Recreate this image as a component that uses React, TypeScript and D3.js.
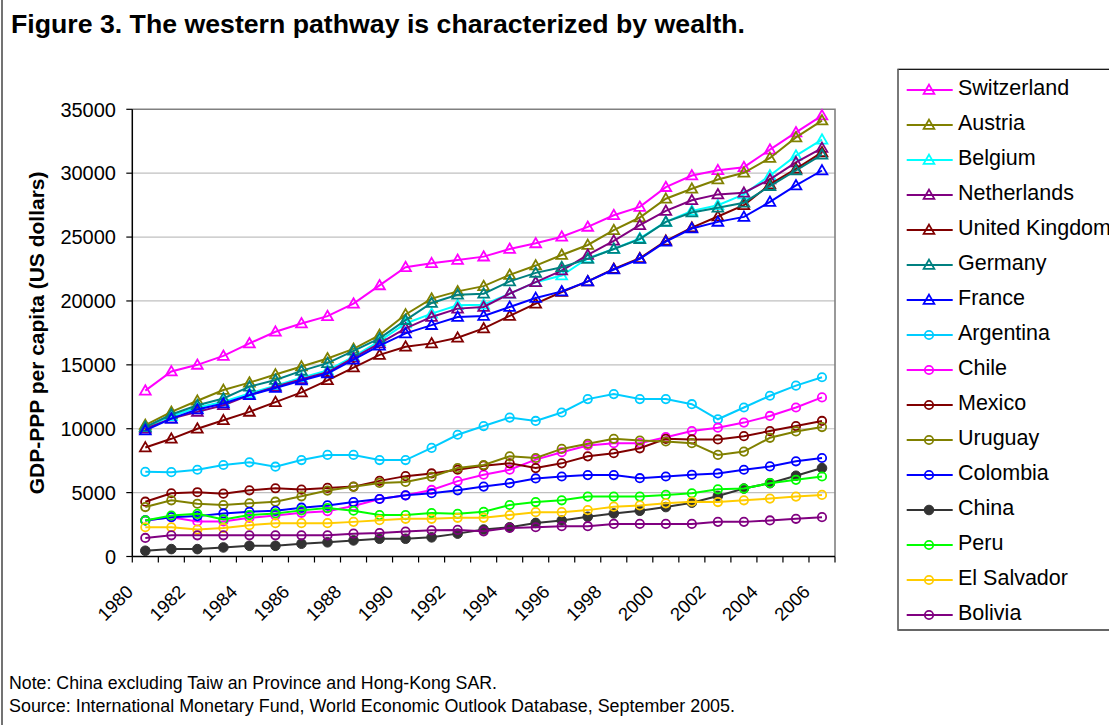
import React from "react";
import * as d3 from "d3";

// categories and tick labels
const years = [
  1980, 1981, 1982, 1983, 1984, 1985, 1986, 1987, 1988, 1989, 1990, 1991, 1992, 1993,
  1994, 1995, 1996, 1997, 1998, 1999, 2000, 2001, 2002, 2003, 2004, 2005, 2006,
];
const yTicks = [0, 5000, 10000, 15000, 20000, 25000, 30000, 35000];

// GDP-PPP per capita
const switzerland = [12980, 14480, 15000, 15700, 16680, 17590, 18240, 18810, 19790, 21220, 22640, 22950, 23210, 23470, 24070, 24510, 25030, 25800, 26710, 27360, 28910, 29820, 30230, 30470, 31840, 33190, 34510];
const austria = [10290, 11320, 12190, 13030, 13610, 14240, 14870, 15500, 16250, 17330, 18940, 20180, 20750, 21160, 22040, 22770, 23600, 24380, 25540, 26530, 28000, 28780, 29510, 30030, 31190, 32800, 34120];
const belgium = [10080, 10980, 11660, 12110, 12770, 13370, 14000, 14560, 15650, 16860, 18240, 19010, 19660, 19710, 20570, 21470, 21990, 23340, 24070, 24900, 26190, 27050, 27490, 28340, 29820, 31370, 32620];
const netherlands = [10000, 10790, 11320, 11840, 12630, 13290, 13870, 14420, 15550, 16680, 17850, 18750, 19400, 19530, 20570, 21470, 22380, 23600, 24710, 25930, 27050, 27880, 28340, 28470, 29510, 30850, 31970];
const unitedKingdom = [8530, 9210, 10000, 10660, 11320, 12080, 12840, 13790, 14790, 15780, 16420, 16680, 17120, 17850, 18830, 19790, 20700, 21530, 22510, 23340, 24710, 25740, 26610, 27490, 29120, 30340, 31630];
const germany = [10130, 11110, 11840, 12370, 13290, 13820, 14530, 15130, 16100, 17070, 18500, 19840, 20490, 20570, 21530, 22200, 22640, 23290, 24070, 24840, 26190, 26920, 27300, 27690, 28990, 30210, 31450];
const france = [9870, 10790, 11500, 11970, 12630, 13190, 13770, 14320, 15400, 16500, 17460, 18110, 18750, 18830, 19530, 20230, 20750, 21530, 22460, 23290, 24640, 25670, 26190, 26580, 27750, 29040, 30210];
const argentina = [6630, 6600, 6790, 7160, 7370, 7030, 7550, 7950, 7950, 7550, 7550, 8500, 9530, 10210, 10870, 10610, 11270, 12320, 12710, 12320, 12320, 11920, 10740, 11660, 12580, 13370, 14030];
const chile = [2820, 3080, 2740, 2740, 3030, 3210, 3420, 3550, 3950, 4500, 4790, 5210, 5900, 6400, 6790, 7580, 8160, 8690, 8870, 8870, 9340, 9820, 10080, 10480, 11000, 11660, 12450];
const mexico = [4290, 4950, 5030, 4920, 5180, 5340, 5240, 5370, 5470, 5920, 6290, 6500, 6790, 7110, 7290, 6920, 7290, 7840, 8080, 8470, 9210, 9160, 9160, 9420, 9820, 10210, 10610];
const uruguay = [3870, 4400, 4130, 4030, 4160, 4290, 4710, 5160, 5450, 5760, 5840, 6240, 6920, 7160, 7840, 7710, 8420, 8820, 9210, 9080, 9000, 8870, 7950, 8210, 9290, 9790, 10130];
const colombia = [2820, 3080, 3160, 3370, 3500, 3580, 3820, 4000, 4260, 4500, 4790, 4950, 5180, 5470, 5740, 6110, 6260, 6370, 6370, 6130, 6260, 6400, 6500, 6790, 7050, 7450, 7710];
const china = [450, 580, 580, 710, 840, 840, 1000, 1110, 1260, 1390, 1390, 1500, 1790, 2110, 2290, 2630, 2820, 3110, 3370, 3580, 3870, 4210, 4740, 5320, 5740, 6320, 6920];
const peru = [2820, 3210, 3340, 2900, 3240, 3370, 3610, 3790, 3580, 3240, 3240, 3400, 3340, 3500, 4030, 4260, 4400, 4690, 4690, 4690, 4820, 4950, 5260, 5320, 5740, 6000, 6260];
const elSalvador = [2290, 2290, 2110, 2240, 2450, 2610, 2610, 2610, 2710, 2840, 2950, 2950, 3030, 3030, 3240, 3470, 3470, 3630, 3900, 4000, 4160, 4290, 4260, 4400, 4530, 4690, 4820];
const bolivia = [1450, 1660, 1660, 1660, 1660, 1660, 1660, 1660, 1790, 1840, 1950, 2050, 2080, 1970, 2240, 2290, 2370, 2370, 2550, 2550, 2550, 2550, 2710, 2710, 2820, 2950, 3080];

const series = [
  { name: "Switzerland", color: "#ff00ff", marker: "tri", values: switzerland },
  { name: "Austria", color: "#808000", marker: "tri", values: austria },
  { name: "Belgium", color: "#00ffff", marker: "tri", values: belgium },
  { name: "Netherlands", color: "#800080", marker: "tri", values: netherlands },
  { name: "United Kingdom", color: "#800000", marker: "tri", values: unitedKingdom },
  { name: "Germany", color: "#008080", marker: "tri", values: germany },
  { name: "France", color: "#0000ff", marker: "tri", values: france },
  { name: "Argentina", color: "#00ccff", marker: "circ", values: argentina },
  { name: "Chile", color: "#ff00ff", marker: "circ", values: chile },
  { name: "Mexico", color: "#800000", marker: "circ", values: mexico },
  { name: "Uruguay", color: "#808000", marker: "circ", values: uruguay },
  { name: "Colombia", color: "#0000ff", marker: "circ", values: colombia },
  { name: "China", color: "#333333", marker: "dot", values: china },
  { name: "Peru", color: "#00ff00", marker: "circ", values: peru },
  { name: "El Salvador", color: "#ffcc00", marker: "circ", values: elSalvador },
  { name: "Bolivia", color: "#800080", marker: "circ", values: bolivia },
];

const W = 1109;
const H = 725;
const plot = { left: 132.3, right: 835, top: 109.3, bottom: 556.5 };
const font = "Arial, 'Liberation Sans', sans-serif";

const triPath = d3.symbol(d3.symbolTriangle, 50)();

function Marker({ kind, color, x, y }: { kind: string; color: string; x: number; y: number }) {
  if (kind === "tri") {
    return <path d={triPath || ""} transform={`translate(${x},${y + 0.8})`} fill="none" stroke={color} strokeWidth={1.8} />;
  }
  if (kind === "dot") {
    return <circle cx={x} cy={y} r={4.8} fill={color} stroke={color} strokeWidth={1} />;
  }
  return <circle cx={x} cy={y} r={4.2} fill="none" stroke={color} strokeWidth={1.8} />;
}

export default function App() {
  const x = d3.scaleBand<number>().domain(years).range([plot.left, plot.right]);
  const y = d3.scaleLinear().domain([0, 35000]).range([plot.bottom, plot.top]);
  const cx = (yr: number) => (x(yr) as number) + x.bandwidth() / 2;
  const line = d3
    .line<number>()
    .x((_, i) => cx(years[i]))
    .y((d) => y(d));

  const boundaries = years.map((yr) => x(yr) as number).concat([plot.right]);

  const legendX = 898;
  const legendTop = 69.3;
  const legendBottom = 630;
  const legendStep = 35;

  return (
    <svg width={W} height={H} style={{ position: "absolute", left: 0, top: 0, background: "#fff" }} fontFamily={font}>
      <rect x={0} y={0} width={W} height={H} fill="#fff" />
      {/* figure frame */}
      <line x1={2} x2={2} y1={0} y2={H} stroke="#444" strokeWidth={1.5} />

      <text x={11} y={32.5} fontSize={25.5} fontWeight="bold" fill="#000" textLength={734} lengthAdjust="spacingAndGlyphs">
        Figure 3. The western pathway is characterized by wealth.
      </text>

      {/* gridlines */}
      {yTicks.slice(1, -1).map((t) => (
        <line key={t} x1={plot.left} x2={plot.right} y1={y(t)} y2={y(t)} stroke="#c0c0c0" strokeWidth={1.2} />
      ))}
      {/* plot frame top/right */}
      <polyline
        points={`${plot.left},${plot.top} ${plot.right},${plot.top} ${plot.right},${plot.bottom}`}
        fill="none"
        stroke="#808080"
        strokeWidth={1.6}
      />

      {/* y axis */}
      <line x1={plot.left} x2={plot.left} y1={plot.top} y2={plot.bottom} stroke="#000" strokeWidth={1.5} />
      {yTicks.map((t) => (
        <g key={t}>
          <line x1={plot.left - 6} x2={plot.left} y1={y(t)} y2={y(t)} stroke="#000" strokeWidth={1.2} />
          <text x={116} y={y(t)} dy="0.36em" textAnchor="end" fontSize={20} fill="#000">
            {t}
          </text>
        </g>
      ))}
      <text
        transform={`translate(36,${(plot.top + plot.bottom) / 2}) rotate(-90)`}
        textAnchor="middle"
        dy="0.36em"
        fontSize={21}
        fontWeight="bold"
        fill="#000"
      >
        GDP-PPP per capita (US dollars)
      </text>

      {/* x axis */}
      <line x1={plot.left} x2={plot.right} y1={plot.bottom} y2={plot.bottom} stroke="#000" strokeWidth={1.5} />
      {boundaries.map((b, i) => (
        <line key={i} x1={b} x2={b} y1={plot.bottom} y2={plot.bottom + 6} stroke="#000" strokeWidth={1.2} />
      ))}
      {years
        .filter((_, i) => i % 2 === 0)
        .map((yr) => (
          <text
            key={yr}
            transform={`translate(${cx(yr) - 11},${plot.bottom + 36.5}) rotate(-45)`}
            textAnchor="end"
            fontSize={18.5}
            fill="#000"
          >
            {yr}
          </text>
        ))}

      {/* series */}
      {series.map((s) => (
        <g key={s.name}>
          <path d={line(s.values) || ""} fill="none" stroke={s.color} strokeWidth={2} />
          {s.values.map((v, i) => (
            <Marker key={i} kind={s.marker} color={s.color} x={cx(years[i])} y={y(v)} />
          ))}
        </g>
      ))}

      {/* legend */}
      <rect x={legendX} y={legendTop} width={W - legendX + 10} height={legendBottom - legendTop} fill="none" stroke="#000" strokeWidth={1.2} />
      <line x1={legendX} x2={legendX} y1={legendTop} y2={legendBottom} stroke="#808080" strokeWidth={1.5} />
      {series.map((s, i) => {
        const cy = 90 + i * legendStep;
        return (
          <g key={s.name}>
            <line x1={906.7} x2={952.7} y1={cy} y2={cy} stroke={s.color} strokeWidth={2} />
            <Marker kind={s.marker} color={s.color} x={929} y={cy} />
            <text x={958} y={cy + 4.5} fontSize={21.5} fill="#000">
              {s.name}
            </text>
          </g>
        );
      })}

      {/* notes */}
      <text x={9} y={689} fontSize={17.5} fill="#000" textLength={488} lengthAdjust="spacingAndGlyphs">
        Note: China excluding Taiw an Province and Hong-Kong SAR.
      </text>
      <text x={9} y={712} fontSize={17.5} fill="#000" textLength={726} lengthAdjust="spacingAndGlyphs">
        Source: International Monetary Fund, World Economic Outlook Database, September 2005.
      </text>
    </svg>
  );
}
